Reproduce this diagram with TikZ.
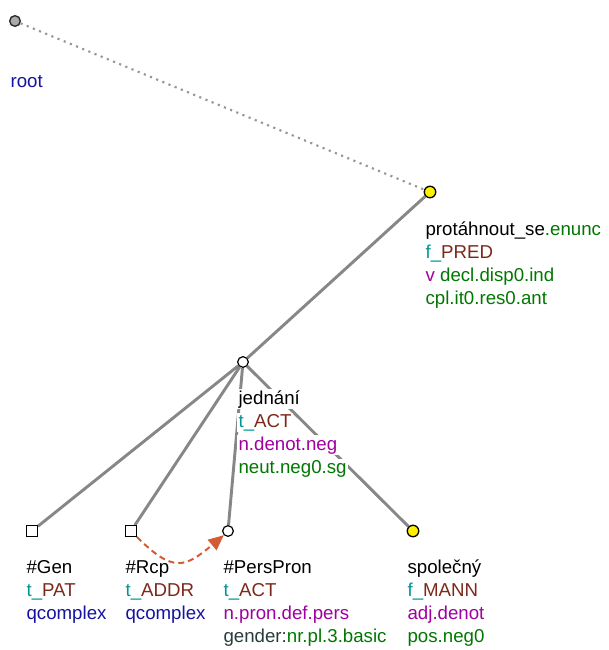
\documentclass[tikz,border=0pt]{standalone}
\usepackage{fontspec}
\setmainfont{Liberation Sans}
\usepackage{xcolor}
\usetikzlibrary{arrows.meta,backgrounds}
\definecolor{edgeGray}{RGB}{135,135,135}
\definecolor{rootGray}{RGB}{150,150,150}
\definecolor{rootFill}{RGB}{170,170,170}
\definecolor{funcTeal}{RGB}{0,150,150}
\definecolor{funcBrown}{RGB}{125,40,25}
\definecolor{gramPurple}{RGB}{160,0,160}
\definecolor{gramGreen}{RGB}{0,120,0}
\definecolor{nodeBlue}{RGB}{20,20,160}
\definecolor{slateGray}{RGB}{40,60,60}
\definecolor{corefOrange}{RGB}{212,92,52}
\definecolor{nodeYellow}{RGB}{255,240,0}

\tikzset{
  plainnode/.style={circle,draw=black,fill=white,line width=0.9pt,minimum size=8pt,inner sep=0pt},
  rootnode/.style={circle,draw=black!85,fill=rootFill,line width=1pt,minimum size=8pt,inner sep=0pt},
  yellownode/.style={circle,draw=black,fill=nodeYellow,line width=1pt,minimum size=8.6pt,inner sep=0pt},
  boxnode/.style={rectangle,draw=black,fill=white,line width=0.9pt,minimum size=8pt,inner sep=0pt},
  lbl/.style={anchor=base west,inner sep=1pt,fill=white,font=\fontsize{14}{17}\selectfont},
  edge/.style={draw=edgeGray,line width=2.2pt},
  rootedge/.style={draw=rootGray,line width=1.6pt,dash pattern=on 1.6pt off 3.4pt},
  coref/.style={draw=corefOrange,line width=1.5pt,dash pattern=on 4.5pt off 3pt,-{Triangle[length=11.5pt,width=10pt]}}
}

\begin{document}
\begin{tikzpicture}[x=0.75pt,y=-0.75pt]
  \useasboundingbox (0,0) rectangle (609,650);

  % tree nodes
  \node[rootnode] (root) at (15,21) {};
  \node[yellownode] (pred) at (430,192) {};
  \node[plainnode] (act) at (243,362) {};
  \node[boxnode] (pat) at (32,531) {};
  \node[boxnode] (addr) at (131,531) {};
  \node[plainnode] (perspron) at (228,531) {};
  \node[yellownode] (mann) at (413,531) {};

  % labels: root
  \node[lbl] (root1) at (9,87) {\textcolor{nodeBlue}{root}};
  % labels: protahnout_se
  \node[lbl] (pred1) at (424,235) {protáhnout\_se\textcolor{gramGreen}{.enunc}};
  \node[lbl] (pred2) at (424,258) {\textcolor{funcTeal}{f\_}\textcolor{funcBrown}{PRED}};
  \node[lbl] (pred3) at (424,281) {\textcolor{gramPurple}{v} \textcolor{gramGreen}{decl.disp0.ind}};
  \node[lbl] (pred4) at (424,304) {\textcolor{gramGreen}{cpl.it0.res0.ant}};
  % labels: jednani
  \node[lbl] (act1) at (237,404) {jednání};
  \node[lbl] (act2) at (237,427) {\textcolor{funcTeal}{t\_}\textcolor{funcBrown}{ACT}};
  \node[lbl] (act3) at (237,450) {\textcolor{gramPurple}{n.denot.neg}};
  \node[lbl] (act4) at (237,473) {\textcolor{gramGreen}{neut.neg0.sg}};
  % labels: #Gen
  \node[lbl] (pat1) at (25,573) {\#Gen};
  \node[lbl] (pat2) at (25,596) {\textcolor{funcTeal}{t\_}\textcolor{funcBrown}{PAT}};
  \node[lbl] (pat3) at (25,619) {\textcolor{nodeBlue}{qcomplex}};
  % labels: #Rcp
  \node[lbl] (addr1) at (124,573) {\#Rcp};
  \node[lbl] (addr2) at (124,596) {\textcolor{funcTeal}{t\_}\textcolor{funcBrown}{ADDR}};
  \node[lbl] (addr3) at (124,619) {\textcolor{nodeBlue}{qcomplex}};
  % labels: #PersPron
  \node[lbl] (perspron1) at (222,573) {\#PersPron};
  \node[lbl] (perspron2) at (222,596) {\textcolor{funcTeal}{t\_}\textcolor{funcBrown}{ACT}};
  \node[lbl] (perspron3) at (222,619) {\textcolor{gramPurple}{n.pron.def.pers}};
  \node[lbl] (perspron4) at (222,642) {\textcolor{slateGray}{gender:}\textcolor{gramGreen}{nr.pl.3.basic}};
  % labels: spolecny
  \node[lbl] (mann1) at (406,573) {společný};
  \node[lbl] (mann2) at (406,596) {\textcolor{funcTeal}{f\_}\textcolor{funcBrown}{MANN}};
  \node[lbl] (mann3) at (406,619) {\textcolor{gramPurple}{adj.denot}};
  \node[lbl] (mann4) at (406,642) {\textcolor{gramGreen}{pos.neg0}};

  % edges behind nodes and labels
  \begin{pgfonlayer}{background}
    \draw[rootedge] (root) -- (pred);
    \draw[edge] (pred) -- (act);
    \draw[edge] (act) -- (pat);
    \draw[edge] (act) -- (addr);
    \draw[edge] (act) -- (perspron);
    \draw[edge] (act) -- (mann);
  \end{pgfonlayer}

  % coreference arrow
  \draw[coref] (addr.south east) to[out=-45,in=-140,looseness=1.5] (perspron.south west);
\end{tikzpicture}
\end{document}
